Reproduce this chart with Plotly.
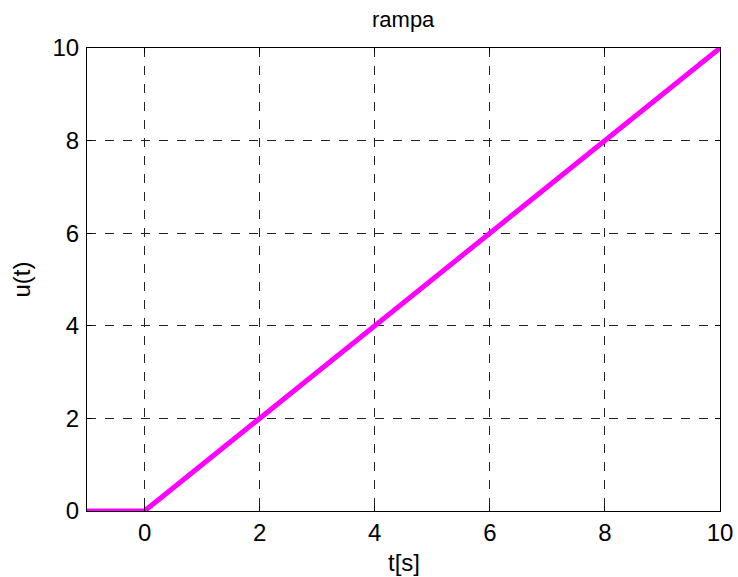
import plotly.graph_objects as go

# Unit ramp u(t) = t for t >= 0, zero before
t_vals = [-1, 0, 10]
u_vals = [0, 0, 10]
x_ticks = [0, 2, 4, 6, 8, 10]
y_ticks = [0, 2, 4, 6, 8, 10]

FONT = "Liberation Sans, Arial, Helvetica, sans-serif"

fig = go.Figure()
fig.add_trace(go.Scatter(
    x=t_vals, y=u_vals, mode="lines",
    line=dict(color="#FF00FF", width=5),
    showlegend=False, cliponaxis=False,
))

axis_common = dict(
    showline=True, linecolor="black", linewidth=1, mirror="ticks",
    showgrid=True, gridcolor="#222222", gridwidth=1, griddash="dash",
    zeroline=False, ticks="inside", ticklen=5, tickcolor="black",
    automargin=False,
    tickfont=dict(family=FONT, size=24, color="black"),
)

fig.update_layout(
    width=738, height=577,
    margin=dict(l=87, r=18, t=48, b=66),
    paper_bgcolor="white", plot_bgcolor="white",
    xaxis=dict(range=[-1, 10], tickvals=x_ticks, ticklabelstandoff=0, **axis_common),
    yaxis=dict(range=[0, 10], tickvals=y_ticks, ticklabelstandoff=2, **axis_common),
    annotations=[
        dict(text="rampa", xref="paper", yref="paper", x=0.5, y=1.0605,
             xanchor="center", yanchor="middle", showarrow=False,
             font=dict(family=FONT, size=22, color="black")),
        dict(text="t[s]", xref="paper", yref="paper", x=0.5, y=-0.111,
             xanchor="center", yanchor="middle", showarrow=False,
             font=dict(family=FONT, size=24, color="black")),
        dict(text="u(t)", xref="paper", yref="paper", x=-0.1027, y=0.5,
             xanchor="center", yanchor="middle", showarrow=False, textangle=-90,
             font=dict(family=FONT, size=24, color="black")),
    ],
)

fig.write_html("out.html")
